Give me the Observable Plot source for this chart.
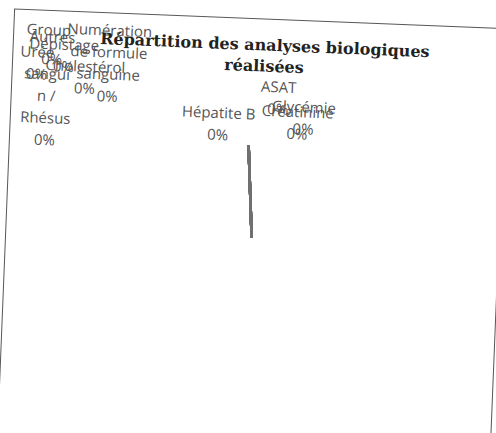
<!DOCTYPE html>
<html>
<head>
<meta charset="utf-8">
<script src="https://cdn.jsdelivr.net/npm/d3@7"></script>
<script src="https://cdn.jsdelivr.net/npm/@observablehq/plot@0.6"></script>
<style>
  html, body { margin: 0; padding: 0; background: #fff; overflow: hidden; }
  #page { position: relative; width: 496px; height: 433px; transform: rotate(2.3deg); transform-origin: 248px 216px; }
  #frame { position: absolute; left: 6px; top: 18px; width: 494px; height: 470px; border: 1.5px solid #555; box-sizing: border-box; }
  #title { position: absolute; left: 0; top: 34px; width: 516px; text-align: center; font: bold 16px "DejaVu Serif", serif; line-height: 21px; color: #222; }
  #chart { position: absolute; left: 0; top: 0; }
</style>
</head>
<body>
<div id="page">
  <div id="frame"></div>
  <div id="chart"></div>
  <div id="title">Répartition des analyses biologiques<br>réalisées</div>
</div>
<script>
// --- data ---
const categories = ["Groupe sanguin / Rhésus", "Numération de formule sanguine", "Autres", "Dépistage", "Urée", "Cholestérol", "Hépatite B", "ASAT", "Glycémie", "Créatinine"];
const values = [0, 0, 0, 0, 0, 0, 0, 0, 0, 0];
// wrapped label text as it appears (category name lines)
const labelLines = [["Group", "", "sangui", "n /", "Rhésus"], ["Numération", "de formule", "sanguine"], ["Autres"], ["Dépistage"], ["Urée"], ["Cholestérol"], ["Hépatite B"], ["ASAT"], ["Glycémie"], ["Créatinine"]];

// --- layout (label anchors, pie geometry) ---
const labelX = [41, 102, 45, 57, 30.5, 79, 214, 273, 299, 293];
const labelY = [38, 36, 45, 52, 60.5, 73, 114, 86, 105, 110];
const lineStep = 22;
const cx = 252, cy = 237, r = 92, startAngle = -0.073;

const total = d3.sum(values);
const pct = d3.format(".0%");
const pie = d3.pie().sort(null).startAngle(startAngle).endAngle(startAngle + 2 * Math.PI)(values);
const slices = pie.map((p, i) => ({cat: categories[i], a0: p.startAngle, a1: p.endAngle}));
const edges = slices.flatMap(s => [s.a0, s.a1]).map(a => ({a}));

const labelRows = [];
categories.forEach((c, i) => {
  const lines = [...labelLines[i], pct(total ? values[i] / total : 0)];
  lines.forEach((t, k) => labelRows.push({x: labelX[i], y: labelY[i] + k * lineStep, text: t}));
});

const chart = Plot.plot({
  width: 496,
  height: 433,
  margin: 0,
  x: {domain: [0, 496], range: [0, 496], axis: null},
  y: {domain: [0, 433], range: [0, 433], axis: null},
  style: {background: "transparent", overflow: "visible"},
  marks: [
    Plot.link(edges, {
      x1: () => cx, y1: () => cy,
      x2: d => cx + r * Math.sin(d.a), y2: d => cy - r * Math.cos(d.a),
      stroke: "#707070", strokeWidth: 2.5
    }),
    Plot.text(labelRows, {x: "x", y: "y", text: "text", fontSize: 15, fontFamily: "Open Sans", fill: "#555", textAnchor: "middle"})
  ]
});
document.getElementById("chart").append(chart);
</script>
</body>
</html>
